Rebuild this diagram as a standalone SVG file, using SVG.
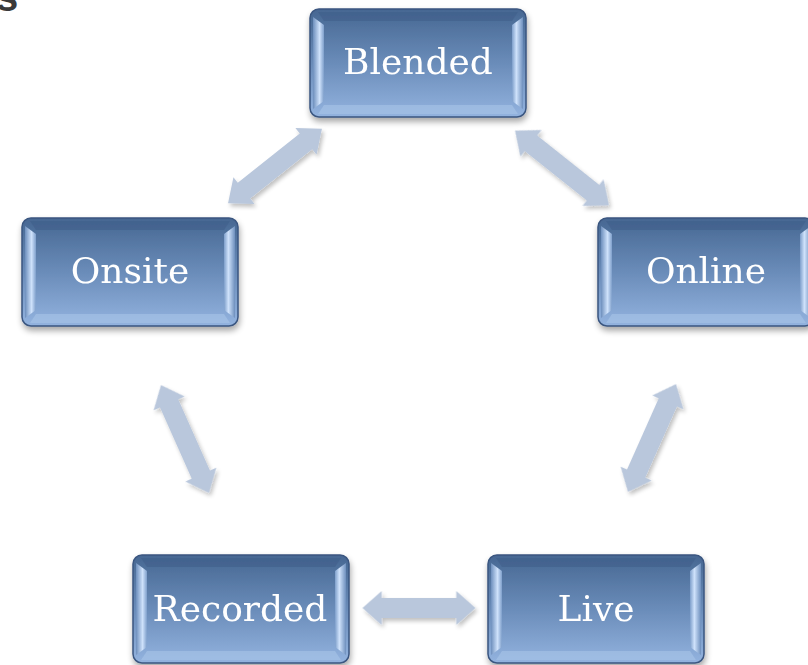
<svg xmlns="http://www.w3.org/2000/svg" width="808" height="665" viewBox="0 0 808 665">
<defs>
<linearGradient id="face" x1="0" y1="0" x2="0" y2="1">
<stop offset="0" stop-color="#45669290"/>
<stop offset="0" stop-color="#466792"/>
<stop offset="0.5" stop-color="#6a8cb9"/>
<stop offset="1" stop-color="#93b3df"/>
</linearGradient>
<linearGradient id="sideL" x1="0" y1="0" x2="1" y2="0">
<stop offset="0" stop-color="#6d8fbd"/>
<stop offset="0.6" stop-color="#cfe2fb"/>
<stop offset="1" stop-color="#7e9fcb"/>
</linearGradient>
<linearGradient id="sideR" x1="1" y1="0" x2="0" y2="0">
<stop offset="0" stop-color="#6d8fbd"/>
<stop offset="0.6" stop-color="#cfe2fb"/>
<stop offset="1" stop-color="#7e9fcb"/>
</linearGradient>
<filter id="sh" x="-20%" y="-20%" width="140%" height="150%">
<feGaussianBlur in="SourceAlpha" stdDeviation="3"/>
<feOffset dx="1" dy="4" result="b"/>
<feComponentTransfer><feFuncA type="linear" slope="0.35"/></feComponentTransfer>
<feMerge><feMergeNode/><feMergeNode in="SourceGraphic"/></feMerge>
</filter>
<filter id="ash" x="-20%" y="-40%" width="140%" height="180%">
<feGaussianBlur in="SourceAlpha" stdDeviation="2"/>
<feOffset dx="2" dy="3"/>
<feComponentTransfer><feFuncA type="linear" slope="0.25"/></feComponentTransfer>
<feMerge><feMergeNode/><feMergeNode in="SourceGraphic"/></feMerge>
</filter>
<g id="box">
<rect x="0" y="0" width="216" height="108" rx="9" fill="url(#face)" stroke="#3a5680" stroke-width="1.5"/>
<polygon points="3,8 14,16 14,92 3,100" fill="url(#sideL)"/>
<polygon points="213,8 202,16 202,92 213,100" fill="url(#sideR)"/>
<polygon points="8,3 208,3 202,12 14,12" fill="#3f5f8b" opacity="0.6"/>
<polygon points="8,105 208,105 202,96 14,96" fill="#a8c4e8" opacity="0.6"/>
</g>
</defs>
<style>
.lbl{font-family:"DejaVu Serif","Liberation Serif",serif;font-size:36px;fill:#ffffff;text-anchor:middle}
.a{fill:#b9c7dc}
</style>
<rect width="808" height="665" fill="#ffffff"/>
<text x="-4" y="11" style="font-family:'Liberation Sans',sans-serif;font-weight:bold;font-size:40px;fill:#3a3a3a">s</text>

<g id="connectors" filter="url(#ash)">
<path class="a" transform="translate(275,166) rotate(-38.5) scale(1.2,1)" d="M -50,0 L -33,-17 L -33,-10 L 33,-10 L 33,-17 L 50,0 L 33,17 L 33,10 L -33,10 L -33,17 Z"/>
<path class="a" transform="translate(562,168) rotate(38.5) scale(1.2,1)" d="M -50,0 L -33,-17 L -33,-10 L 33,-10 L 33,-17 L 50,0 L 33,17 L 33,10 L -33,10 L -33,17 Z"/>
<path class="a" transform="translate(185,439) rotate(66) scale(1.18,1)" d="M -50,0 L -33,-17 L -33,-10 L 33,-10 L 33,-17 L 50,0 L 33,17 L 33,10 L -33,10 L -33,17 Z"/>
<path class="a" transform="translate(652,438) rotate(-66) scale(1.18,1)" d="M -50,0 L -33,-17 L -33,-10 L 33,-10 L 33,-17 L 50,0 L 33,17 L 33,10 L -33,10 L -33,17 Z"/>
<path class="a" transform="translate(419,608) scale(1.13,1)" d="M -50,0 L -33,-17 L -33,-10 L 33,-10 L 33,-17 L 50,0 L 33,17 L 33,10 L -33,10 L -33,17 Z"/>
</g>

<g id="blended" filter="url(#sh)"><use href="#box" x="310" y="9"/><text class="lbl" x="418" y="74">Blended</text></g>
<g id="onsite" filter="url(#sh)"><use href="#box" x="22" y="218"/><text class="lbl" x="130" y="283">Onsite</text></g>
<g id="online" filter="url(#sh)"><use href="#box" x="598" y="218"/><text class="lbl" x="706" y="283">Online</text></g>
<g id="recorded" filter="url(#sh)"><use href="#box" x="133" y="555"/><text class="lbl" x="240" y="621">Recorded</text></g>
<g id="live" filter="url(#sh)"><use href="#box" x="488" y="555"/><text class="lbl" x="596" y="621">Live</text></g>
</svg>
